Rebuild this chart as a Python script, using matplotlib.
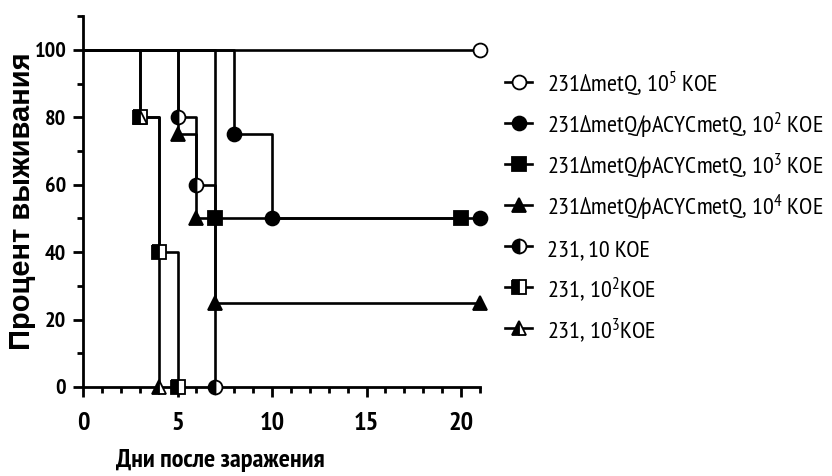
import matplotlib
matplotlib.use("Agg")
import matplotlib.pyplot as plt
from matplotlib import font_manager as fm
from matplotlib.lines import Line2D
from matplotlib.ticker import MultipleLocator

# узкий шрифт с кириллицей — берём первый из установленных
installed = {f.name for f in fm.fontManager.ttflist}
narrow = next((n for n in ["PT Sans Narrow", "Roboto Condensed",
                           "Open Sans Condensed", "Archivo Narrow"]
               if n in installed), "DejaVu Sans")
NARROW = [narrow, "DejaVu Sans"]
WIDE = ["Liberation Sans", "DejaVu Sans"]

plt.rcParams["font.family"] = NARROW
plt.rcParams["mathtext.fontset"] = "custom"
plt.rcParams["mathtext.rm"] = narrow
plt.rcParams["mathtext.it"] = narrow

# Данные выживаемости (время, процент) для каждой группы
labels = [
    "231\u2206metQ, 10$^5$ KOE",
    "231\u2206metQ/pACYCmetQ, 10$^2$ KOE",
    "231\u2206metQ/pACYCmetQ, 10$^3$ KOE",
    "231\u2206metQ/pACYCmetQ, 10$^4$ KOE",
    "231, 10 KOE",
    "231, 10$^2$KOE",
    "231, 10$^3$KOE",
]
times = [
    [0, 21],
    [0, 8, 10, 21],
    [0, 7, 20],
    [0, 5, 6, 7, 21],
    [0, 5, 6, 7],
    [0, 3, 4, 5],
    [0, 3, 4],
]
survival = [
    [100, 100],
    [100, 75, 50, 50],
    [100, 50, 50],
    [100, 75, 50, 25, 25],
    [100, 80, 60, 0],
    [100, 80, 40, 0],
    [100, 80, 0],
]
markers = ["o", "o", "s", "^", "o", "s", "^"]
fills = ["none", "full", "full", "full", "left", "left", "left"]

x_ticks = [0, 5, 10, 15, 20]
y_ticks = [0, 20, 40, 60, 80, 100]

W, H = 832, 476
fig = plt.figure(figsize=(W / 100, H / 100), dpi=100)
ax = fig.add_axes([0.0998, 0.187, 0.477, 0.779])

# легенда рисуется вручную, чтобы строки шли с равным шагом
leg_x0, leg_x1, leg_text_x = 505, 532, 547   # пиксели
leg_y0, leg_dy = 82, 41

for i, (t, s, m, f, lab) in enumerate(zip(times, survival, markers, fills, labels)):
    # ступенчатая линия
    ax.step(t, s, where="post", color="black", lw=1.9, clip_on=False,
            solid_capstyle="butt")
    # маркеры в точках событий
    mk = dict(marker=m, markersize=10, markeredgecolor="black",
              markeredgewidth=1.3, clip_on=False, zorder=3)
    if f == "none":
        mk.update(markerfacecolor="white")
    elif f == "full":
        mk.update(markerfacecolor="black")
    else:
        mk.update(fillstyle="left", markerfacecolor="black",
                  markerfacecoloralt="white")
    ax.plot(t[1:], s[1:], ls="none", **mk)

    # элемент легенды
    yy = 1 - (leg_y0 + i * leg_dy) / H
    fig.add_artist(Line2D([leg_x0 / W, leg_x1 / W], [yy, yy], color="black",
                          lw=1.9, transform=fig.transFigure))
    fig.add_artist(Line2D([(leg_x0 + leg_x1) / 2 / W], [yy], ls="none",
                          transform=fig.transFigure, **mk))
    fig.text(leg_text_x / W, yy - 10 / H, lab, fontsize=17.5,
             ha="left", va="baseline")

ax.set_xlim(0, 21)
ax.set_ylim(0, 110)
ax.set_xticks(x_ticks)
ax.set_yticks(y_ticks)
ax.xaxis.set_minor_locator(MultipleLocator(1))
ax.yaxis.set_minor_locator(MultipleLocator(10))

for side in ["top", "right"]:
    ax.spines[side].set_visible(False)
for side in ["left", "bottom"]:
    ax.spines[side].set_linewidth(2.0)

ax.tick_params(which="major", length=7, width=2.0, pad=5)
ax.tick_params(which="minor", length=4, width=2.0)
ax.tick_params(axis="x", which="major", labelsize=19, pad=11)
ax.tick_params(axis="y", which="major", labelsize=16)
for lbl in ax.get_xticklabels() + ax.get_yticklabels():
    lbl.set_fontweight("bold")

ax.set_xlabel("Дни после заражения", fontsize=19, fontweight="bold", va="center")
ax.xaxis.set_label_coords(0.345, -0.197)
ax.set_ylabel("Процент выживания", fontsize=21, fontweight="bold",
              family=WIDE, va="center")
ax.yaxis.set_label_coords(-0.154, 0.5)

fig.savefig("out.png", dpi=100)
